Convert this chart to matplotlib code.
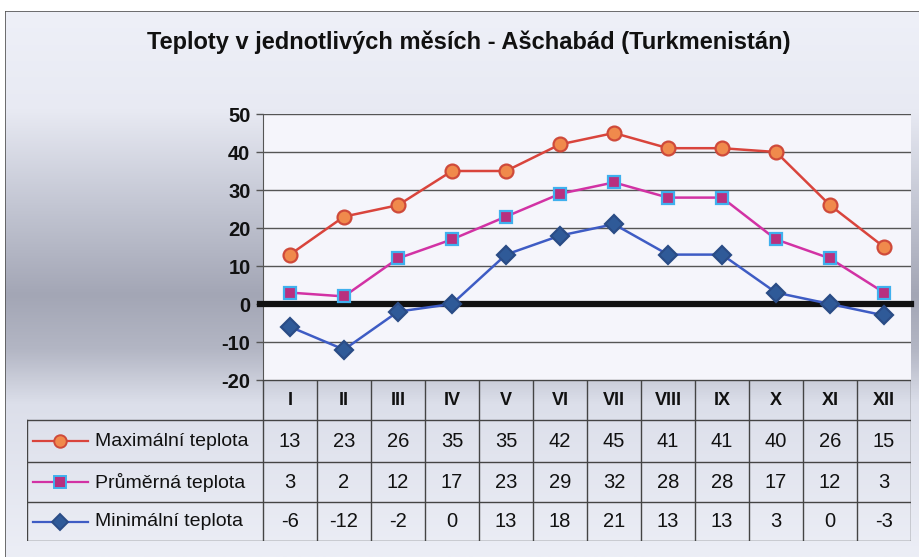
import numpy as np
import matplotlib.pyplot as plt
from matplotlib.colors import LinearSegmentedColormap

plt.rcParams['font.family'] = ['Liberation Sans', 'DejaVu Sans']
plt.rcParams['axes.unicode_minus'] = False

title = 'Teploty v jednotlivých měsích - Ašchabád (Turkmenistán)'
months = ['I', 'II', 'III', 'IV', 'V', 'VI', 'VII', 'VIII', 'IX', 'X', 'XI', 'XII']
max_t = [13, 23, 26, 35, 35, 42, 45, 41, 41, 40, 26, 15]
avg_t = [3, 2, 12, 17, 23, 29, 32, 28, 28, 17, 12, 3]
min_t = [-6, -12, -2, 0, 13, 18, 21, 13, 13, 3, 0, -3]
series_names = ['Maximální teplota', 'Průměrná teplota', 'Minimální teplota']
yticks = [-20, -10, 0, 10, 20, 30, 40, 50]

styles = [
    dict(color='#d9443c', marker='o', mfc='#f08a4c', mec='#cf4a3a', ms=10),
    dict(color='#d232a4', marker='s', mfc='#b8307f', mec='#3fb0ee', ms=9),
    dict(color='#3e5cc4', marker='D', mfc='#2f5a98', mec='#2a4c86', ms=9),
]

W, H = 920, 557
fig = plt.figure(figsize=(W / 100, H / 100), dpi=100)
fig.patch.set_facecolor('white')


def fx(px):
    return px / W


def fy(py):
    return 1 - py / H


# chart area background with the scanned grey gradient
bg = fig.add_axes([fx(5), 0, fx(W - 5), fy(11)], zorder=-10)
cmap = LinearSegmentedColormap.from_list('bg', [
    (0.0, '#eef0f8'), (0.18, '#e8eaf3'), (0.35, '#c4c7d4'),
    (0.52, '#a3a6b5'), (0.62, '#b3b6c4'), (0.72, '#dcdfea'),
    (1.0, '#eceef6')])
grad = np.linspace(0, 1, 256).reshape(-1, 1)
bg.imshow(grad, aspect='auto', cmap=cmap, extent=[0, 1, 0, 1], origin='upper')
bg.plot([0, 0], [0, 1], color='#555555', lw=1.2)
bg.plot([0, 1], [1, 1], color='#555555', lw=1.2)
bg.set_xlim(0, 1)
bg.set_ylim(0, 1)
bg.axis('off')

fig.text(fx(469), fy(42), title, ha='center', va='center',
         fontsize=17, fontweight='bold', color='#111111')

# plot area
ax = fig.add_axes([fx(263), fy(380), fx(911 - 263), fy(114) - fy(380)])
ax.set_facecolor('#f5f5fb')
x = np.arange(len(months))
for vals, st in zip([max_t, avg_t, min_t], styles):
    ax.plot(x, vals, lw=1.8, marker=st['marker'], color=st['color'],
            mfc=st['mfc'], mec=st['mec'], mew=1.6, ms=st['ms'], zorder=5)
ax.set_xlim(-0.5, len(months) - 0.5)
ax.set_ylim(-20, 50)
ax.set_yticks(yticks)
ax.yaxis.grid(True, color='#555555', lw=1.0)
ax.set_axisbelow(True)
ax.axhline(0, color='#111111', lw=4.5, zorder=3, xmin=-0.005, clip_on=False)
ax.set_xticks([])
ax.tick_params(axis='y', length=5, width=1, color='#555555', pad=4,
               labelsize=14.5)
for lab in ax.get_yticklabels():
    lab.set_fontweight('bold')
    lab.set_color('#111111')
for s in ['top', 'right', 'bottom']:
    ax.spines[s].set_visible(False)
ax.spines['left'].set_color('#555555')

# data table
tb = fig.add_axes([fx(27), fy(541), fx(911 - 27), fy(380) - fy(541)])
tb.set_xlim(-0.5 - (263 - 27) / 54.0, len(months) - 0.5)
tb.set_ylim(541, 380)
tb.axis('off')
lc = '#444444'
row_y = [380, 420, 462, 502, 541]
left = tb.get_xlim()[0]
tb.plot([-0.5, 11.5], [380, 380], color=lc, lw=1)
for yy in row_y[1:]:
    tb.plot([left, 11.5], [yy, yy], color=lc, lw=1)
tb.plot([left, left], [420, 541], color=lc, lw=1)
for i in range(len(months) + 1):
    tb.plot([i - 0.5, i - 0.5], [380, 541], color=lc, lw=1)
for i, m in enumerate(months):
    tb.text(i, 400, m, ha='center', va='center', fontsize=13,
            fontweight='bold', color='#111111')
px = 54.0
for r, (vals, name, st) in enumerate(zip([max_t, avg_t, min_t], series_names, styles)):
    yc = (row_y[r + 1] + row_y[r + 2]) / 2
    x0 = left + 6 / px
    tb.plot([x0, x0 + 55 / px], [yc, yc], color=st['color'], lw=1.6)
    tb.plot([x0 + 27 / px], [yc], marker=st['marker'], mfc=st['mfc'],
            mec=st['mec'], mew=1.4, ms=st['ms'] - 1, ls='none')
    tb.text(x0 + 62 / px, yc, name, ha='left', va='center', fontsize=14,
            color='#111111')
    for i, v in enumerate(vals):
        tb.text(i, yc, str(v), ha='center', va='center', fontsize=14.5,
                color='#111111')

fig.savefig('out.png', dpi=100)
